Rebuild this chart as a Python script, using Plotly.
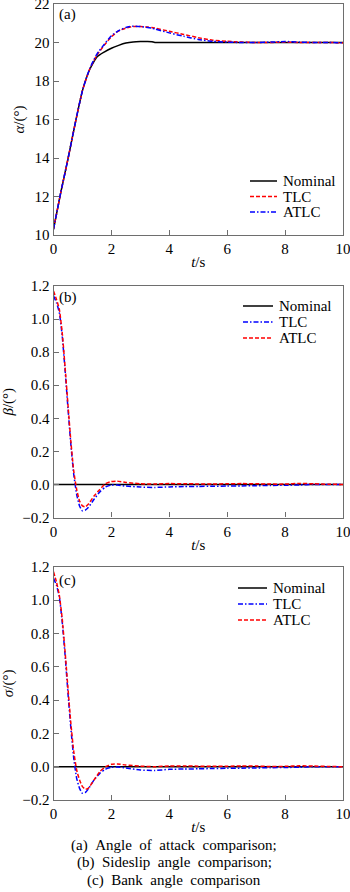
import plotly.graph_objects as go

# ---------------- data ----------------
t_a = [0, 0.25, 0.5, 0.75, 1.0, 1.25, 1.5, 1.75, 2.0, 2.25, 2.5, 2.75, 3.0, 3.25, 3.4, 3.5,
       4, 4.5, 5, 5.5, 6, 6.5, 7, 7.5, 8, 8.5, 9, 9.5, 10]
alpha_nominal = [10.3, 12.2, 13.95, 15.8, 17.5, 18.6, 19.25, 19.5, 19.7, 19.85, 19.97, 20.03, 20.05, 20.05, 20.04, 20.0,
                 20.0, 20.0, 20.0, 20.0, 20.0, 20.0, 20.0, 20.0, 20.0, 20.0, 20.0, 20.0, 20.0]
alpha_tlc = [10.3, 12.2, 13.95, 15.8, 17.5, 18.62, 19.35, 19.85, 20.3, 20.6, 20.75, 20.83, 20.83, 20.8, 20.78, 20.75,
             20.58, 20.42, 20.25, 20.12, 20.06, 20.02, 20.0, 20.0, 20.02, 20.0, 20.0, 20.0, 19.98]
alpha_atlc = [10.3, 12.2, 13.95, 15.8, 17.5, 18.64, 19.4, 19.9, 20.35, 20.62, 20.78, 20.85, 20.83, 20.78, 20.74, 20.7,
              20.5, 20.32, 20.16, 20.06, 20.02, 20.0, 20.0, 20.02, 20.05, 20.02, 20.0, 20.0, 19.98]

t_b = [0, 0.1, 0.2, 0.3, 0.4, 0.5, 0.6, 0.7, 0.8, 0.9, 1.0, 1.1, 1.2, 1.4, 1.6, 1.8, 2.0, 2.2, 2.5,
       3, 3.5, 4, 4.5, 5, 5.5, 6, 6.5, 7, 7.5, 8, 8.5, 9, 9.5, 10]
beta_nominal = [0] * len(t_b)
beta_tlc = [1.14, 1.10, 1.04, 0.90, 0.69, 0.46, 0.24, 0.06, -0.06, -0.13, -0.16, -0.155, -0.14, -0.09, -0.045,
            -0.015, -0.003, -0.004, -0.01, -0.016, -0.018, -0.015, -0.013, -0.012, -0.011, -0.01, -0.009,
            -0.008, -0.006, -0.005, -0.003, 0.0, 0.0, 0.0]
beta_atlc = [1.17, 1.12, 1.06, 0.92, 0.71, 0.48, 0.26, 0.08, -0.03, -0.10, -0.13, -0.135, -0.12, -0.07, -0.03,
             0.005, 0.018, 0.02, 0.012, 0.004, 0.002, 0.005, 0.004, 0.003, 0.002, 0.004, 0.005, 0.004,
             0.002, 0.002, 0.006, 0.004, 0.001, 0.0]

t_c = t_b
sigma_nominal = [0] * len(t_c)
sigma_tlc = [1.13, 1.09, 1.02, 0.87, 0.67, 0.44, 0.23, 0.05, -0.07, -0.13, -0.16, -0.155, -0.135, -0.08, -0.04,
             -0.015, -0.004, -0.002, -0.008, -0.02, -0.023, -0.016, -0.014, -0.013, -0.011, -0.01, -0.009,
             -0.008, -0.006, -0.005, -0.003, 0.0, 0.0, 0.0]
sigma_atlc = [1.17, 1.11, 1.03, 0.89, 0.69, 0.47, 0.26, 0.09, -0.02, -0.08, -0.12, -0.135, -0.13, -0.08, -0.03,
              0.0, 0.014, 0.016, 0.01, 0.003, 0.0, 0.004, 0.004, 0.003, 0.002, 0.003, 0.004, 0.004, 0.001,
              0.002, 0.005, 0.004, 0.001, 0.0]

x_ticks = [0, 2, 4, 6, 8, 10]
series_names = ["Nominal", "TLC", "ATLC"]
captions = ["(a)  Angle  of  attack  comparison;",
            "(b)  Sideslip  angle  comparison;",
            "(c)  Bank  angle  comparison"]

# ---------------- styling ----------------
FONT = "Liberation Serif"
FRAME = "#6e6e6e"
RED = "#ff0000"
BLUE = "#0000ff"
DASH = "4px,2px"
DASHDOT = "5px,2px,1.5px,2px"
H = 892.0
W = 350.0

fig = go.Figure()

def add(x, y, name, color, dash, xa, ya):
    fig.add_trace(go.Scatter(x=x, y=y, name=name, mode="lines", showlegend=False,
                             line=dict(color=color, dash=dash, width=1.5, shape="spline", smoothing=0.5),
                             xaxis=xa, yaxis=ya))

styles_a = [("black", "solid"), (RED, DASH), (BLUE, DASHDOT)]
styles_bc = [("black", "solid"), (BLUE, DASHDOT), (RED, DASH)]

for ys, (c, d), n in zip([alpha_nominal, alpha_tlc, alpha_atlc], styles_a, series_names):
    add(t_a, ys, n, c, d, "x", "y")
for ys, (c, d), n in zip([beta_nominal, beta_tlc, beta_atlc], styles_bc, series_names):
    add(t_b, ys, n, c, d, "x2", "y2")
for ys, (c, d), n in zip([sigma_nominal, sigma_tlc, sigma_atlc], styles_bc, series_names):
    add(t_c, ys, n, c, d, "x3", "y3")

xdom = [53.5 / W, 343 / W]
doms = {"a": [1 - 235 / H, 1 - 4 / H], "b": [1 - 517.5 / H, 1 - 286 / H], "c": [1 - 800 / H, 1 - 566.7 / H]}

def xaxis(anchor):
    return dict(domain=xdom, anchor=anchor, range=[0, 10], tickvals=x_ticks, ticklabeloverflow="allow",
                automargin=False,
                ticks="inside", ticklen=5, tickcolor=FRAME, showline=True, linecolor=FRAME, linewidth=1.2,
                mirror=True, showgrid=False, zeroline=False,
                tickfont=dict(family=FONT, size=15, color="black"),
                title=dict(text="<i>t</i>/s", font=dict(family=FONT, size=15, color="black"), standoff=0))

def yaxis(anchor, dom, rng, dtick, fmt, title):
    return dict(domain=dom, anchor=anchor, range=rng, dtick=dtick, tick0=rng[0], tickformat=fmt,
                ticklabeloverflow="allow", automargin=False,
                ticks="inside", ticklen=5, tickcolor=FRAME, showline=True, linecolor=FRAME, linewidth=1.2,
                mirror=True, showgrid=False, zeroline=False,
                tickfont=dict(family=FONT, size=15, color="black"),
                title=dict(text=title, font=dict(family=FONT, size=15, color="black"), standoff=6))

fig.update_layout(
    width=350, height=892, margin=dict(l=0, r=0, t=0, b=0, autoexpand=False),
    paper_bgcolor="white", plot_bgcolor="white", showlegend=False,
    xaxis=xaxis("y"),
    yaxis=yaxis("x", doms["a"], [10, 22], 2, "d", "<i>α</i>/(°)"),
    xaxis2=xaxis("y2"),
    yaxis2=yaxis("x2", doms["b"], [-0.2, 1.2], 0.2, ".1f", "<i>β</i>/(°)"),
    xaxis3=xaxis("y3"),
    yaxis3=yaxis("x3", doms["c"], [-0.2, 1.2], 0.2, ".1f", "<i>σ</i>/(°)"),
)

# legends (key line + label), one block per panel
def legend_block(x_line, y_top, styles, line_len=28, row=15.5):
    for i, ((c, d), n) in enumerate(zip(styles, series_names)):
        yy = 1 - (y_top + i * row) / H
        fig.add_shape(type="line", xref="paper", yref="paper",
                      x0=x_line / W, x1=(x_line + line_len) / W, y0=yy, y1=yy,
                      line=dict(color=c, dash=d, width=1.5))
        fig.add_annotation(text=n, xref="paper", yref="paper", x=(x_line + line_len + 4) / W, y=yy,
                           xanchor="left", yanchor="middle", showarrow=False,
                           font=dict(family=FONT, size=15, color="black"))

legend_block(250, 181, styles_a, 27)
legend_block(243, 306, styles_bc, 30, 16)
legend_block(238, 588, styles_bc, 29, 16)

# panel labels
for lab, ypix in [("(a)", 15), ("(b)", 297), ("(c)", 580)]:
    fig.add_annotation(text=lab, xref="paper", yref="paper", x=57 / W, y=1 - ypix / H,
                       xanchor="left", yanchor="middle", showarrow=False,
                       font=dict(family=FONT, size=15, color="black"))

# captions
for cap, ypix in zip(captions, [845, 862, 880]):
    fig.add_annotation(text=cap.replace("  ", "&nbsp;&nbsp;"), xref="paper", yref="paper", x=174 / W, y=1 - ypix / H,
                       xanchor="center", yanchor="middle", showarrow=False,
                       font=dict(family=FONT, size=15, color="black"))

fig.write_html("out.html")
